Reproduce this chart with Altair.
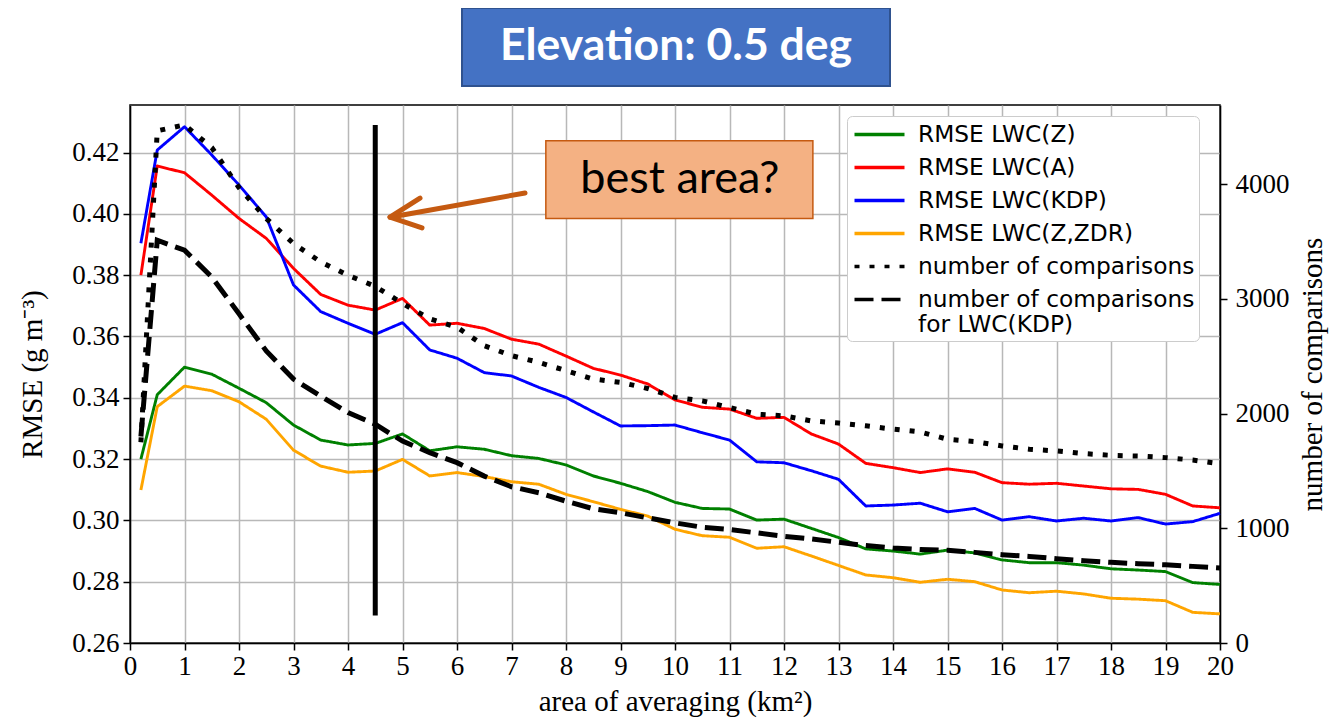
import altair as alt
import pandas as pd

# ---------------- data ----------------
area = [0.2, 0.5, 1.0, 1.5, 2.0, 2.5, 3.0, 3.5, 4.0, 4.5, 5.0, 5.5, 6.0, 6.5, 7.0, 7.5,
        8.0, 8.5, 9.0, 9.5, 10.0, 10.5, 11.0, 11.5, 12.0, 12.5, 13.0, 13.5, 14.0, 14.5,
        15.0, 15.5, 16.0, 16.5, 17.0, 17.5, 18.0, 18.5, 19.0, 19.5, 20.0]

rmse_z = [0.320, 0.341, 0.350, 0.3477, 0.3431, 0.3384, 0.3311, 0.3262, 0.3246, 0.3251, 0.3282,
          0.3227, 0.3240, 0.3232, 0.3211, 0.3202, 0.3181, 0.3145, 0.3121, 0.3094, 0.3059,
          0.3039, 0.3037, 0.3001, 0.3004, 0.2974, 0.2944, 0.2907, 0.2900, 0.2890, 0.2903,
          0.2894, 0.2871, 0.2862, 0.2862, 0.2854, 0.2842, 0.2838, 0.2833, 0.2797, 0.2791]

rmse_a = [0.380, 0.4156, 0.4134, 0.4061, 0.3985, 0.3920, 0.3822, 0.3737, 0.3702, 0.3686, 0.3724,
          0.3637, 0.3643, 0.3626, 0.3591, 0.3575, 0.3536, 0.3496, 0.3474, 0.3445, 0.3393,
          0.3369, 0.3363, 0.3333, 0.3336, 0.3282, 0.3249, 0.3186, 0.3172, 0.3156, 0.3168,
          0.3157, 0.3123, 0.3118, 0.3121, 0.3112, 0.3103, 0.3101, 0.3085, 0.3047, 0.3041]

rmse_kdp = [0.3904, 0.4208, 0.4284, 0.4192, 0.4094, 0.3990, 0.3768, 0.3681, 0.3643, 0.3607, 0.3645,
            0.3556, 0.3529, 0.3482, 0.3471, 0.3434, 0.3401, 0.3354, 0.3308, 0.3309, 0.3311,
            0.3286, 0.3262, 0.3191, 0.3188, 0.3162, 0.3134, 0.3047, 0.3050, 0.3056, 0.3028,
            0.3039, 0.3001, 0.3012, 0.2998, 0.3007, 0.2998, 0.3009, 0.2988, 0.2996, 0.3023]

rmse_zzdr = [0.3099, 0.3371, 0.3438, 0.3423, 0.3387, 0.3330, 0.3229, 0.3177, 0.3157, 0.3161, 0.3199,
             0.3145, 0.3156, 0.3143, 0.3126, 0.3118, 0.3085, 0.3061, 0.3036, 0.3014, 0.2971,
             0.2950, 0.2945, 0.2909, 0.2914, 0.2884, 0.2853, 0.2822, 0.2813, 0.2798, 0.2808,
             0.2800, 0.2773, 0.2764, 0.2769, 0.2760, 0.2746, 0.2743, 0.2738, 0.2700, 0.2695]

n_comp = [1750, 4465, 4517, 4319, 3969, 3701, 3482, 3322, 3205, 3109, 2960,
          2826, 2753, 2592, 2505, 2447, 2374, 2301, 2272, 2219, 2141,
          2111, 2053, 1995, 1980, 1936, 1918, 1893, 1864, 1840, 1776,
          1756, 1718, 1689, 1674, 1651, 1636, 1630, 1616, 1595, 1563]

n_comp_kdp = [1800, 3511, 3424, 3191, 2870, 2546, 2301, 2152, 2010, 1907, 1760,
              1660, 1572, 1455, 1362, 1310, 1236, 1170, 1135, 1091, 1047,
              1009, 989, 960, 930, 907, 878, 849, 828, 814, 808,
              790, 770, 755, 735, 717, 703, 691, 682, 668, 653]

series_names = ["RMSE LWC(Z)", "RMSE LWC(A)", "RMSE LWC(KDP)", "RMSE LWC(Z,ZDR)",
                "number of comparisons", "number of comparisons for LWC(KDP)"]
series_colors = ["green", "red", "blue", "orange", "black", "black"]
series_dashes = [[1, 0], [1, 0], [1, 0], [1, 0], [5, 10], [19, 8]]

x_ticks = [0, 1, 2, 3, 4, 5, 6, 7, 8, 9, 10, 11, 12, 13, 14, 15, 16, 17, 18, 19, 20]
left_ticks = [0.26, 0.28, 0.30, 0.32, 0.34, 0.36, 0.38, 0.40, 0.42]
right_ticks = [0, 1000, 2000, 3000, 4000]

best_area_x = 4.5
best_area_y = [0.269, 0.429]

# ---------------- tables ----------------
rmse_rows = []
for name, vals in zip(series_names[:4], [rmse_z, rmse_a, rmse_kdp, rmse_zzdr]):
    for a, v in zip(area, vals):
        rmse_rows.append({"area": a, "rmse": v, "series": name})
rmse_df = pd.DataFrame(rmse_rows)

count_rows = []
for name, vals in zip(series_names[4:], [n_comp, n_comp_kdp]):
    for a, v in zip(area, vals):
        count_rows.append({"area": a, "count": v, "series": name})
count_df = pd.DataFrame(count_rows)

W, H = 1090, 538
LEFT_DOMAIN = [0.26, 0.4355]
RIGHT_DOMAIN = [0, 4690]

legend = alt.Legend(
    title=None, orient="none", legendX=717, legendY=11,
    fillColor="white", strokeColor="#cccccc", cornerRadius=5, padding=4,
    symbolType="M-2,0H2", symbolSize=625, symbolStrokeWidth=3.5, symbolOffset=14,
    labelFont="DejaVu Sans", labelFontSize=23.3, labelColor="black",
    labelLimit=500, labelOffset=24, rowPadding=7,
    labelExpr="datum.label == 'number of comparisons for LWC(KDP)' ? "
              "['number of comparisons', 'for LWC(KDP)'] : datum.label",
)

color_enc = alt.Color("series:N", scale=alt.Scale(domain=series_names, range=series_colors), legend=legend)
dash_enc = alt.StrokeDash("series:N", scale=alt.Scale(domain=series_names, range=series_dashes), legend=legend)

x_enc = alt.X("area:Q", scale=alt.Scale(domain=[0, 20], nice=False),
              axis=alt.Axis(values=x_ticks, title="area of averaging (km²)", grid=True,
                            tickSize=7, labelPadding=3, labelFlush=False, format="d",
                            titleX=W / 2, titleY=67, titleBaseline="alphabetic",
                            titleAlign="center"))

y_left = alt.Y("rmse:Q", scale=alt.Scale(domain=LEFT_DOMAIN, nice=False, zero=False),
               axis=alt.Axis(values=left_ticks, format=".2f", title="RMSE (g m⁻³)", grid=True,
                             tickSize=7, labelPadding=4, labelFlush=False,
                             titleX=-98, titleY=H / 2, titleAngle=270, titleBaseline="middle",
                             titleAlign="center"))

rmse_lines = alt.Chart(rmse_df).mark_line(strokeWidth=2.9, strokeJoin="round").encode(
    x=x_enc, y=y_left, color=color_enc, strokeDash=dash_enc, order="area:Q",
)

rule_df = pd.DataFrame({"area": [best_area_x], "y0": [best_area_y[0]], "y1": [best_area_y[1]]})
rule = alt.Chart(rule_df).mark_rule(color="black", strokeWidth=5).encode(
    x="area:Q", y=alt.Y("y0:Q", scale=alt.Scale(domain=LEFT_DOMAIN, nice=False, zero=False)),
    y2="y1:Q",
)

# annotation box "best area?" and its arrow (data coordinates)
box_df = pd.DataFrame({"x0": [7.63], "x1": [12.53], "y0": [0.3985], "y1": [0.4238],
                       "tx": [10.09], "ty": [0.4113], "label": ["best area?"]})
box = alt.Chart(box_df).mark_rect(fill="#F4B183", stroke="#C55A11", strokeWidth=1.5).encode(
    x="x0:Q", x2="x1:Q", y="y0:Q", y2="y1:Q")
box_text = alt.Chart(box_df).mark_text(font="Lato", fontSize=45, color="black",
                                       align="center", baseline="middle").encode(
    x="tx:Q", y="ty:Q", text="label:N")

arrow_df = pd.DataFrame({
    "area": [7.248, 4.771, 5.321, 4.771, 5.358],
    "yy": [0.4068, 0.3989, 0.4051, 0.3989, 0.3954],
    "part": ["shaft", "shaft", "head", "head", "head"],
    "ord": [0, 1, 0, 1, 2],
})
arrow = alt.Chart(arrow_df).mark_line(color="#C55A11", strokeWidth=5, strokeCap="round",
                                      strokeJoin="round").encode(
    x="area:Q", y="yy:Q", detail="part:N", order="ord:Q")

# title box (placed above the plot)
title_df = pd.DataFrame({"t": ["Elevation: 0.5 deg"]})
title_box = alt.Chart(title_df).mark_rect(fill="#4472C4", stroke="#2F528F", strokeWidth=2).encode(
    x=alt.value(332), x2=alt.value(760), y=alt.value(-97), y2=alt.value(-19))
title_text = alt.Chart(title_df).mark_text(font="Lato", fontWeight="bold", fontSize=44.5,
                                           color="white", align="center", baseline="middle").encode(
    x=alt.value(546), y=alt.value(-58), text="t:N")

left_group = alt.layer(rmse_lines, rule, box, box_text, arrow, title_box, title_text)

count_lines = alt.Chart(count_df).mark_line(strokeWidth=5, strokeCap="butt").encode(
    x=alt.X("area:Q"),
    y=alt.Y("count:Q", scale=alt.Scale(domain=RIGHT_DOMAIN, nice=False),
            axis=alt.Axis(orient="right", values=right_ticks, format="d", grid=False,
                          title="number of comparisons", tickSize=7, labelPadding=8,
                          labelFlush=False, titleX=92, titleY=H / 2, titleAngle=270,
                          titleBaseline="middle", titleAlign="center")),
    color=color_enc, strokeDash=dash_enc, order="area:Q",
)

chart = alt.layer(left_group, count_lines).resolve_scale(y="independent").properties(
    width=W, height=H,
    autosize=alt.AutoSizeParams(type="none"),
    padding={"left": 122, "top": 97, "right": 111, "bottom": 77},
).configure_view(
    stroke="black", strokeWidth=1.5
).configure_axis(
    labelFont="Liberation Serif", labelFontSize=27, labelColor="black",
    titleFont="Liberation Serif", titleFontSize=29, titleFontWeight="normal", titleColor="black",
    domainColor="black", domainWidth=1.5, tickColor="black", tickWidth=1.5,
    gridColor="#b8b8b8", gridWidth=1.5, gridOpacity=1,
)

chart.save("out.html", embed_options={"renderer": "svg", "actions": False})
